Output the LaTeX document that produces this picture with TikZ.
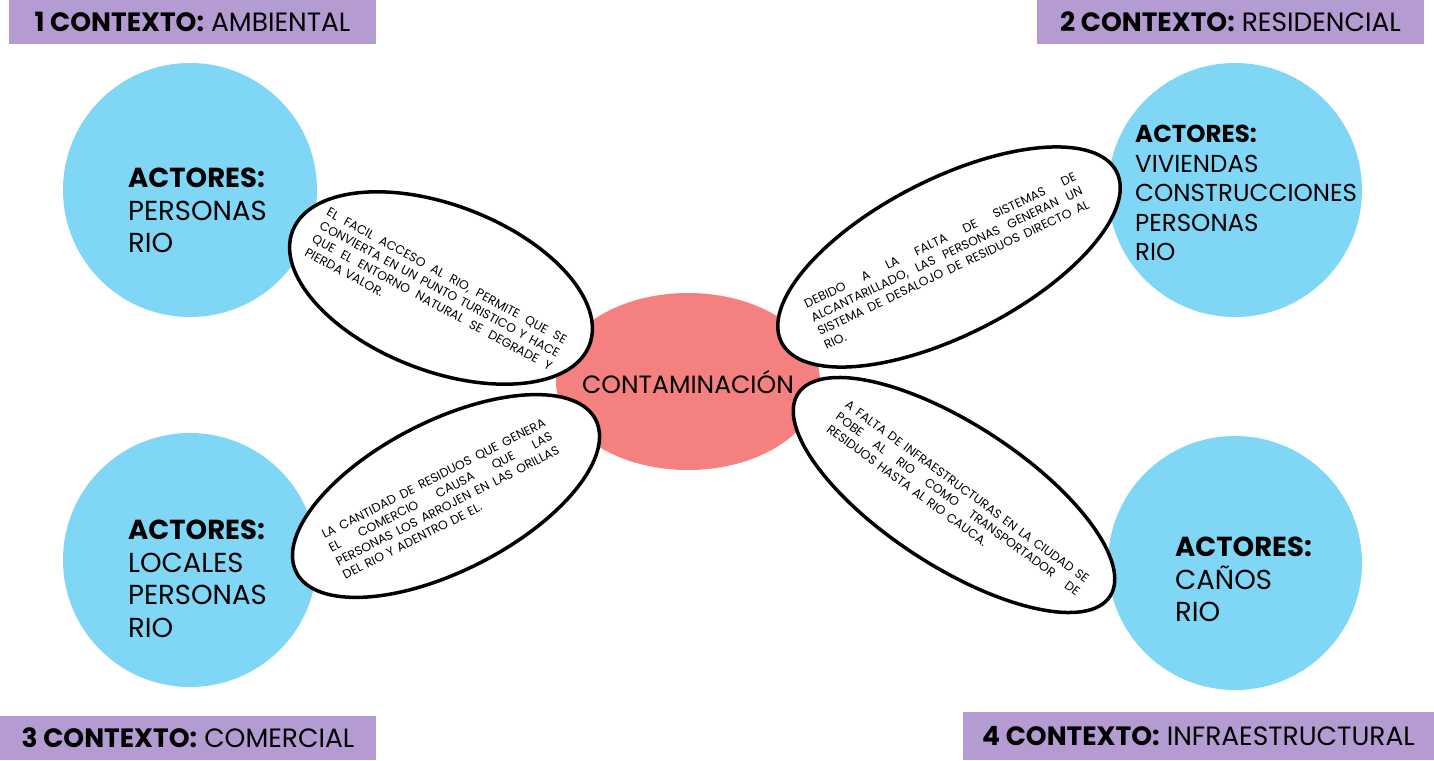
\documentclass[tikz,border=0pt]{standalone}
\usepackage{fontspec}
\setmainfont{Poppins}
\usetikzlibrary{shapes.geometric}

\definecolor{lila}{RGB}{180,155,210}
\definecolor{celeste}{RGB}{127,214,245}
\definecolor{salmon}{RGB}{245,128,128}
\newcommand{\jl}[1]{\noindent\hbox to \hsize{\spaceskip=.26em plus 1fil minus .12em\relax #1}}

\begin{document}
\begin{tikzpicture}[x=1pt,y=-1pt,
    actor/.style={circle, fill=celeste, minimum size=254pt, inner sep=0pt},
    ctx/.style={fill=lila, inner sep=0pt, font=\fontsize{26.5}{30}\selectfont},
    petal/.style={ellipse, draw, fill=white, line width=3.5pt, inner sep=0pt},
    note/.style={font=\fontsize{12.4}{15.3}\selectfont, align=left, inner sep=0pt},
    lista/.style={font=\fontsize{27.5}{32.5}\selectfont, align=left, anchor=north west, inner sep=0pt}]

    \useasboundingbox (0,0) rectangle (1434,760);

    % contextos
    \node[ctx, minimum width=367pt, minimum height=44pt] (c1) at (192.5,22) {\textbf{1 CONTEXTO:} AMBIENTAL};
    \node[ctx, minimum width=387pt, minimum height=44pt] (c2) at (1230.5,22) {\textbf{2 CONTEXTO:} RESIDENCIAL};
    \node[ctx, minimum width=376pt, minimum height=44pt] (c3) at (188,738) {\textbf{3 CONTEXTO:} COMERCIAL};
    \node[ctx, minimum width=471pt, minimum height=48pt] (c4) at (1198.5,736) {\textbf{4 CONTEXTO:} INFRAESTRUCTURAL};

    % actores
    \node[actor] (a1) at (190,190) {};
    \node[actor] (a2) at (1235,190) {};
    \node[actor] (a3) at (190,560) {};
    \node[actor] (a4) at (1235,563) {};
    \node[lista] (l1) at (128,168) {\textbf{ACTORES:}\\PERSONAS\\RIO};
    \node[lista, font=\fontsize{24.5}{29.5}\selectfont] (l2) at (1135,125) {\textbf{ACTORES:}\\VIVIENDAS\\CONSTRUCCIONES\\PERSONAS\\RIO};
    \node[lista] (l3) at (128,520) {\textbf{ACTORES:}\\LOCALES\\PERSONAS\\RIO};
    \node[lista] (l4) at (1175,537) {\textbf{ACTORES:}\\CAÑOS\\RIO};

    \node[ellipse, fill=salmon, minimum width=264pt, minimum height=177pt, inner sep=0pt] (centro) at (688,381.5) {};

    % petalos
    \node[petal, minimum width=318pt, minimum height=166pt, rotate=-21] (p1) at (441,288) {};
    \node[petal, minimum width=376pt, minimum height=156pt, rotate=27] (p2) at (949,257) {};
    \node[petal, minimum width=336pt, minimum height=150pt, rotate=27] (p3) at (446,496) {};
    \node[petal, minimum width=372pt, minimum height=142pt, rotate=-33] (p4) at (954,495) {};

    \node[font=\fontsize{25}{30}\selectfont] (conta) at (centro) {CONTAMINACIÓN};

    \node[note, text width=271pt, rotate=-28.5] (t1) at (436,296) {\jl{EL FACIL ACCESO AL RIO, PERMITE QUE SE}\\\jl{CONVIERTA EN UN PUNTO TURISTICO Y HACE}\\\jl{QUE EL ENTORNO NATURAL SE DEGRADE Y}\\PIERDA VALOR.};
    \node[note, text width=299pt, rotate=25.4] (t2) at (950,261) {\jl{DEBIDO A LA FALTA DE SISTEMAS DE}\\\jl{ALCANTARILLADO, LAS PERSONAS GENERAN UN}\\\jl{SISTEMA DE DESALOJO DE RESIDUOS DIRECTO AL}\\RIO.};
    \node[note, text width=249pt, rotate=27] (t3) at (444,499) {\jl{LA CANTIDAD DE RESIDUOS QUE GENERA}\\\jl{EL COMERCIO CAUSA QUE LAS}\\\jl{PERSONAS LOS ARROJEN EN LAS ORILLAS}\\DEL RIO Y ADENTRO DE EL.};
    \node[note, text width=299pt, rotate=-36.3] (t4) at (958,504) {\jl{A FALTA DE INFRAESTRUCTURAS EN LA CIUDAD SE}\\\jl{POBE AL RIO COMO TRANSPORTADOR DE}\\RESIDUOS HASTA AL RIO CAUCA.};

\end{tikzpicture}
\end{document}
